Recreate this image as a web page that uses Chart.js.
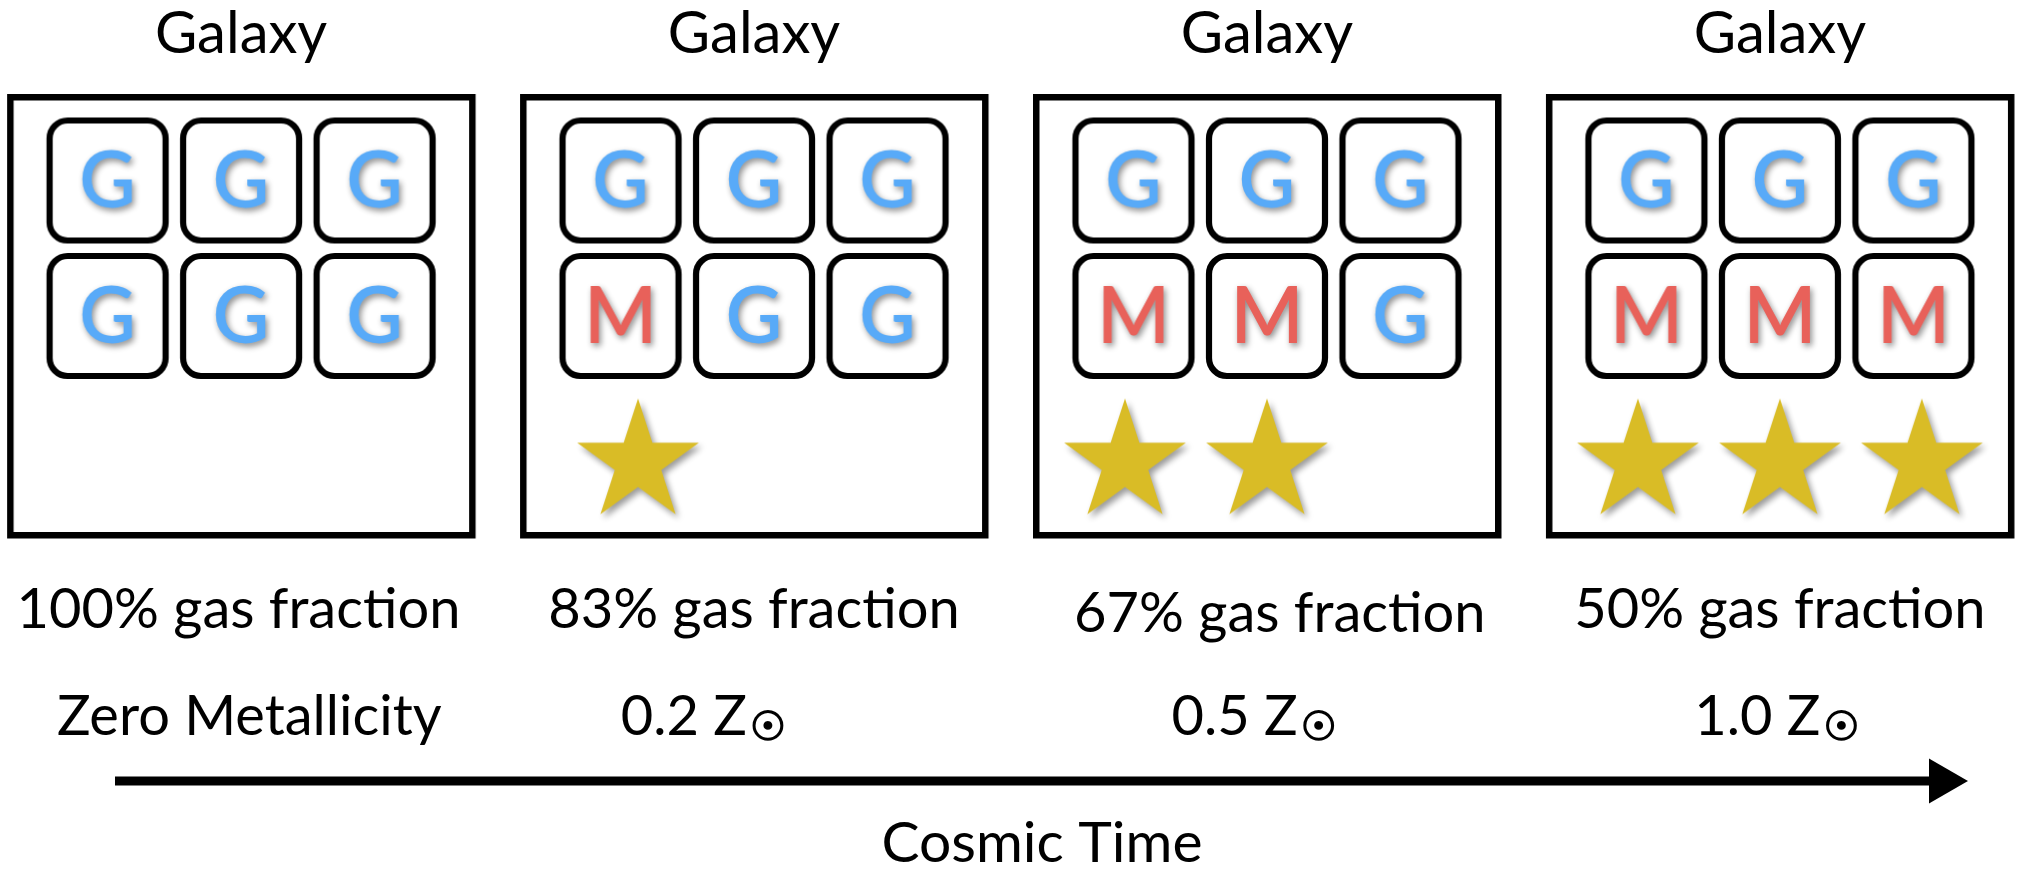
<!DOCTYPE html>
<html>
<head>
<meta charset="utf-8">
<title>Galaxy gas fraction and metallicity over cosmic time</title>
<script src="https://cdn.jsdelivr.net/npm/chart.js@4.4.0/dist/chart.umd.min.js"></script>
<style>
  html, body { margin: 0; padding: 0; background: #fff; }
  #wrap { width: 2022px; height: 873px; }
</style>
</head>
<body>
<div id="wrap"><canvas id="chGalaxy" width="2022" height="873"></canvas></div>
<script>
// --- data (one entry per galaxy snapshot, left to right in cosmic time) ---
const STAGES = ['Galaxy', 'Galaxy', 'Galaxy', 'Galaxy'];
const GAS_FRACTION = [100, 83, 67, 50];      // %
const METALLICITY = [0, 0.2, 0.5, 1.0];      // Z☉
const METAL_TILES = [0, 1, 2, 3];            // of 6 tiles, how many are M
const STAR_COUNT = [0, 1, 2, 3];
const TILES_PER_GALAXY = 6;
const AXIS_TITLE = 'Cosmic Time';

// --- layout (x in stage units, y in canvas rows) ---
const L = {
  xMin: -0.470, xMax: 3.472,
  panelY: 316, panelW: 462, panelH: 438, panelLine: 6.5,
  tileDX: 0.2603, rowY: [180.5, 316], tileW: 116, tileH: 120, tileLine: 6.2, tileR: 18,
  starY: 462.5, starR: 64, starDX: 0.2768, starOne: -0.2261,
  titleY: 53, gasY: 628, gasDX: [-0.005, 0, 0.025, 0], gasDY: [0, 0, 4, 0],
  metalY: 735, metalDX: [0.016, -0.099, -0.025, -0.006],
  arrowY: 781, arrowX0: -0.2458, arrowX1: 3.302, headX: 3.316, headR: 26, arrowW: 9,
  timeX: 1.5614, timeY: 862
};
const FONT = '"Gill Sans", Lato, "Open Sans", sans-serif';
const COL = { gas: '#58aaf8', metal: '#e8615a', star: '#d9bc26', ink: '#000' };

// --- glyph images used as point styles ---
function mkCanvas(w, h) {
  const c = document.createElement('canvas');
  c.width = w; c.height = h;
  return c;
}

function panelImg() {
  const w = L.panelW + L.panelLine + 4, h = L.panelH + L.panelLine + 4;
  const c = mkCanvas(w, h), g = c.getContext('2d');
  g.lineWidth = L.panelLine;
  g.strokeStyle = COL.ink;
  g.strokeRect((w - L.panelW) / 2, (h - L.panelH) / 2, L.panelW, L.panelH);
  return c;
}

function tileImg(letter, color) {
  const w = 140, h = 144;
  const c = mkCanvas(w, h), g = c.getContext('2d');
  g.lineWidth = L.tileLine;
  g.strokeStyle = COL.ink;
  g.beginPath();
  g.roundRect((w - L.tileW) / 2, (h - L.tileH) / 2, L.tileW, L.tileH, L.tileR);
  g.stroke();
  g.font = '600 78px ' + FONT;
  g.textAlign = 'center';
  g.textBaseline = 'alphabetic';
  g.fillStyle = color;
  g.shadowColor = 'rgba(0,0,0,0.45)';
  g.shadowBlur = 6;
  g.shadowOffsetX = 2;
  g.shadowOffsetY = 3;
  g.fillText(letter, w / 2, h / 2 + 27);
  return c;
}

function starImg() {
  const s = 170, c = mkCanvas(s, s), g = c.getContext('2d');
  const R = L.starR, r = R * 0.382;
  g.fillStyle = COL.star;
  g.shadowColor = 'rgba(0,0,0,0.4)';
  g.shadowBlur = 6;
  g.shadowOffsetX = 3;
  g.shadowOffsetY = 4;
  g.beginPath();
  for (let k = 0; k < 10; k++) {
    const a = -Math.PI / 2 + k * Math.PI / 5;
    const rad = k % 2 ? r : R;
    g.lineTo(s / 2 + rad * Math.cos(a), s / 2 + rad * Math.sin(a));
  }
  g.closePath();
  g.fill();
  return c;
}

const IMG = { panel: panelImg(), G: tileImg('G', COL.gas), M: tileImg('M', COL.metal), star: starImg() };

// --- points ---
const panelPts = STAGES.map((_, i) => ({ x: i, y: L.panelY }));

const tilePts = [], tileStyles = [];
STAGES.forEach((_, i) => {
  for (let k = 0; k < TILES_PER_GALAXY; k++) {
    const row = Math.floor(k / 3), col = k % 3;
    // metal tiles fill the lower row from the left
    const isMetal = row === 1 && col < METAL_TILES[i];
    tilePts.push({ x: i + (col - 1) * L.tileDX, y: L.rowY[row] });
    tileStyles.push(isMetal ? IMG.M : IMG.G);
  }
});

const starPts = [];
STAGES.forEach((_, i) => {
  const n = STAR_COUNT[i];
  for (let j = 0; j < n; j++) {
    const dx = n === 1 ? L.starOne : (j - 1) * L.starDX;
    starPts.push({ x: i + dx, y: L.starY });
  }
});

// --- text labels drawn against the scales ---
const SUN_FONT = 'bold 40px "DejaVu Sans"';
const panelText = {
  id: 'panelText',
  afterDatasetsDraw(chart) {
    const { ctx, scales: { x, y } } = chart;
    ctx.save();
    ctx.fillStyle = COL.ink;
    ctx.strokeStyle = COL.ink;
    ctx.textBaseline = 'alphabetic';
    STAGES.forEach((name, i) => {
      ctx.textAlign = 'center';
      ctx.font = '58px ' + FONT;
      ctx.fillText(name, x.getPixelForValue(i), y.getPixelForValue(L.titleY));

      ctx.font = '56px ' + FONT;
      ctx.fillText(`${GAS_FRACTION[i]}% gas fraction`,
        x.getPixelForValue(i + L.gasDX[i]), y.getPixelForValue(L.gasY + L.gasDY[i]));

      const cx = x.getPixelForValue(i + L.metalDX[i]);
      const by = y.getPixelForValue(L.metalY);
      if (METALLICITY[i] === 0) {
        ctx.fillText('Zero Metallicity', cx, by);
      } else {
        const main = METALLICITY[i].toFixed(1) + ' Z';
        ctx.font = '56px ' + FONT;
        const wm = ctx.measureText(main).width;
        ctx.font = SUN_FONT;
        const ws = ctx.measureText('☉').width;
        const left = cx - (wm + 3 + ws) / 2;
        ctx.textAlign = 'left';
        ctx.font = '56px ' + FONT;
        ctx.fillText(main, left, by);
        ctx.font = SUN_FONT;
        ctx.lineWidth = 1.6;
        ctx.fillText('☉', left + wm + 3, by + 5);
        ctx.strokeText('☉', left + wm + 3, by + 5);
      }
    });
    ctx.textAlign = 'center';
    ctx.font = '57px ' + FONT;
    ctx.fillText(AXIS_TITLE, x.getPixelForValue(L.timeX), y.getPixelForValue(L.timeY));
    ctx.restore();
  }
};

new Chart(document.getElementById('chGalaxy'), {
  type: 'scatter',
  data: {
    datasets: [
      { label: 'stars', data: starPts, pointStyle: IMG.star, pointRadius: 1 },
      { label: 'tiles', data: tilePts, pointStyle: tileStyles, pointRadius: 1 },
      { label: 'galaxy', data: panelPts, pointStyle: IMG.panel, pointRadius: 1 },
      {
        label: 'time', data: [{ x: L.arrowX0, y: L.arrowY }, { x: L.arrowX1, y: L.arrowY }],
        showLine: true, borderColor: COL.ink, borderWidth: L.arrowW, pointRadius: 0
      },
      {
        label: 'head', data: [{ x: L.headX, y: L.arrowY }],
        pointStyle: 'triangle', rotation: 90, pointRadius: L.headR,
        backgroundColor: COL.ink, borderWidth: 0
      }
    ]
  },
  options: {
    responsive: false,
    animation: false,
    events: [],
    layout: { padding: 0, autoPadding: false },
    plugins: { legend: { display: false }, tooltip: { enabled: false } },
    scales: {
      x: { type: 'linear', min: L.xMin, max: L.xMax, display: false },
      y: { type: 'linear', min: 0, max: 873, reverse: true, display: false }
    }
  },
  plugins: [panelText]
});
</script>
</body>
</html>
